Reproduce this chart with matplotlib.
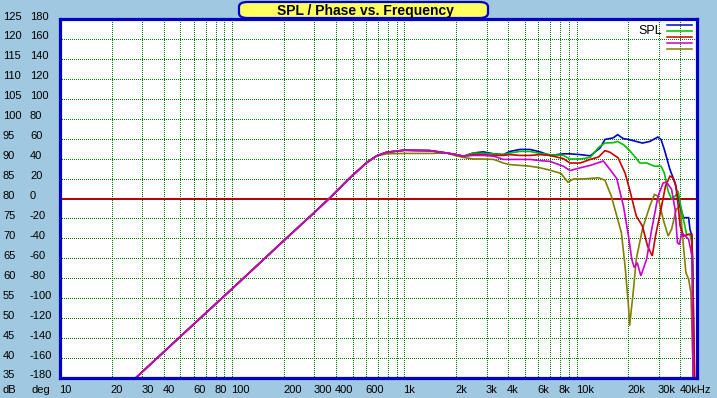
import matplotlib
matplotlib.use("Agg")
import matplotlib.pyplot as plt
from matplotlib import transforms as mtransforms
from matplotlib.patches import FancyBboxPatch
from matplotlib.lines import Line2D
from matplotlib.ticker import NullLocator

# ---------------- data ----------------
freq_low = [10, 27.5, 50, 100, 200, 300, 370, 483, 604, 690]
spl_low = [35, 35, 45.4, 57.4, 69.5, 76.5, 80.2, 85.2, 89.0, 90.7]

freq_blue = [789, 1000, 1410, 1760, 2000, 2200, 2510, 2870, 3300, 3750, 4100, 4690, 5360, 6120, 7000,
             8370, 9150, 10500, 12000, 13700, 14600, 16300, 17300, 18700, 20000, 22200, 24100, 26600,
             29600, 30900, 32300, 34800, 37300, 39900, 41700, 44700, 45500, 46700, 47400, 48000]
spl_blue = [91.6, 92.1, 92.0, 91.4, 91.0, 90.6, 91.4, 91.7, 91.2, 91.0, 91.8, 92.3, 92.3, 91.7, 90.8,
            91.2, 91.2, 91.0, 90.7, 92.7, 94.8, 95.2, 96.0, 95.0, 94.8, 94.3, 93.9, 94.3,
            95.4, 94.8, 92.3, 87.3, 83.9, 78.1, 75.2, 75.2, 72.3, 70.6, 60.0, 35]

freq_green = [789, 1000, 1410, 1760, 2000, 2200, 2510, 2870, 3300, 3750, 4100, 4690, 5360, 6120, 7000,
              8370, 9150, 10500, 12000, 13400, 14600, 16300, 17300, 18700, 20000, 21300, 23300, 25500,
              28300, 30900, 32300, 34000, 35600, 37300, 38900, 39900, 41700, 43500, 45500, 46700, 47400, 48000]
spl_green = [91.6, 92.1, 92.0, 91.4, 91.0, 90.6, 91.4, 91.3, 91.2, 91.0, 91.4, 91.8, 91.8, 91.3, 91.0,
             90.8, 89.9, 89.9, 90.3, 92.8, 93.9, 94.0, 94.3, 93.5, 92.3, 91.0, 88.9, 88.9,
             88.1, 88.1, 86.4, 81.8, 79.8, 80.6, 81.8, 78.9, 74.8, 71.0, 71.0, 68.9, 60.0, 35]

freq_red = [789, 1000, 1410, 1760, 2000, 2200, 2510, 2870, 3300, 3750, 4100, 4690, 5360, 6120, 7000,
            8370, 9150, 10500, 12000, 13400, 14600, 15600, 17400, 19100, 20300, 22200, 24100, 25800,
            27500, 28700, 30900, 32800, 34800, 36300, 37700, 38900, 39900, 41700, 44700, 46700, 47400, 48500]
spl_red = [91.6, 92.1, 92.0, 91.4, 91.0, 90.6, 91.0, 91.0, 90.8, 90.8, 91.0, 90.8, 90.8, 91.0, 90.8,
           90.0, 88.9, 88.9, 89.8, 90.4, 92.0, 91.6, 90.2, 86.4, 82.3, 75.6, 73.1, 68.1,
           65.6, 70.6, 77.3, 83.1, 85.6, 85.2, 83.1, 78.1, 73.1, 70.6, 71.0, 71.0, 57.0, 35]

freq_magenta = [789, 1000, 1410, 1760, 2000, 2200, 2510, 2870, 3300, 3750, 4100, 4690, 5360, 6120, 7000,
                8370, 9150, 10500, 12000, 14300, 15600, 17100, 18700, 20000, 20900, 21600, 22500, 23600,
                25500, 27300, 29700, 31800, 33300, 35600, 37300, 38500, 39500, 40800, 44700, 46700, 47400]
spl_magenta = [91.6, 92.1, 92.0, 91.4, 91.0, 90.6, 90.8, 90.8, 90.6, 89.8, 89.8, 89.8, 89.8, 89.5, 89.3,
               88.1, 87.0, 87.7, 88.3, 89.4, 87.3, 85.0, 78.1, 70.6, 64.8, 62.7, 63.9, 60.6,
               64.8, 72.3, 80.6, 83.9, 84.1, 82.3, 77.3, 68.9, 68.5, 71.4, 69.8, 65.6, 35]

freq_olive = [789, 1000, 1410, 1760, 2000, 2200, 2510, 2870, 3300, 3750, 4100, 4690, 5360, 6120, 7000,
              8100, 8900, 9600, 11000, 13400, 14600, 15900, 18200, 19100, 20000, 20300, 21300, 22200,
              24100, 26600, 28300, 29600, 31800, 34000, 35600, 37900, 39900, 41700, 43100, 44700, 46100, 47600]
spl_olive = [91.2, 91.3, 91.3, 91.4, 90.7, 90.3, 89.9, 89.9, 89.8, 88.9, 88.5, 88.3, 88.1, 87.7, 87.1,
             86.3, 84.1, 84.9, 84.9, 85.2, 84.6, 80.6, 71.4, 63.1, 53.1, 48.1, 56.4, 64.8,
             72.3, 78.1, 81.0, 80.6, 74.8, 70.6, 72.3, 77.3, 78.1, 68.1, 61.4, 59.8, 56.4, 35]

series_names = ["blue", "green", "red", "magenta", "olive"]
series_colors = ["#0000CC", "#00C000", "#CC0000", "#CC00CC", "#808000"]

grid_freqs = [10, 20, 30, 40, 50, 60, 70, 80, 90, 100, 200, 300, 400, 500, 600, 700, 800, 900,
              1000, 2000, 3000, 4000, 5000, 6000, 7000, 8000, 9000, 10000, 20000, 30000, 40000]
tick_freqs = [10, 20, 30, 40, 60, 80, 100, 200, 300, 400, 600, 1000, 2000, 3000, 4000, 6000, 8000,
              10000, 20000, 30000, 40000]
tick_labels = ["10", "20", "30", "40", "60", "80", "100", "200", "300", "400", "600", "1k", "2k", "3k",
               "4k", "6k", "8k", "10k", "20k", "30k", "40kHz"]
db_ticks = [125, 120, 115, 110, 105, 100, 95, 90, 85, 80, 75, 70, 65, 60, 55, 50, 45, 40, 35]
deg_ticks = [180, 160, 140, 120, 100, 80, 60, 40, 20, 0, -20, -40, -60, -80, -100, -120, -140, -160, -180]

# ---------------- figure ----------------
W, H = 717, 398
BG = "#A0C8E0"
FONT = "Liberation Sans"
fig = plt.figure(figsize=(W / 100, H / 100), dpi=100, facecolor=BG)
ax = fig.add_axes([60 / W, 1 - 378 / H, (697 - 60) / W, (378 - 19) / H])
ax.set_facecolor("white")
ax.set_xscale("log")
ax.set_xlim(10, 50000)
ax.set_ylim(35, 125)
ax.xaxis.set_major_locator(NullLocator())
ax.xaxis.set_minor_locator(NullLocator())
ax.yaxis.set_major_locator(NullLocator())
ax.yaxis.set_minor_locator(NullLocator())
for s in ax.spines.values():
    s.set_color("#0000C8")
    s.set_linewidth(2.3)
    s.set_zorder(6)

dot = (0, (1.0, 2.0))
for f in grid_freqs[1:]:
    ax.axvline(f, color="#007800", lw=0.72, ls=dot, zorder=1, antialiased=False)
for d in db_ticks[1:-1]:
    if d == 80:
        ax.axhline(d, color="#B00000", lw=1.4, zorder=2)
    else:
        ax.axhline(d, color="#007800", lw=0.72, ls=dot, zorder=1, antialiased=False)

all_freq = [freq_blue, freq_green, freq_red, freq_magenta, freq_olive]
all_spl = [spl_blue, spl_green, spl_red, spl_magenta, spl_olive]
order = [4, 0, 1, 2, 3]
for i in order:
    ax.plot(freq_low + all_freq[i], spl_low + all_spl[i], color=series_colors[i], lw=1.2, zorder=3,
            solid_joinstyle="miter")

# y labels (dB and deg columns)
trans_y = mtransforms.blended_transform_factory(fig.transFigure, ax.transData)
trans_y = mtransforms.offset_copy(trans_y, fig=fig, x=0, y=2.5, units="dots")
for d, g in zip(db_ticks, deg_ticks):
    fig.text(3 / W, d, str(d), transform=trans_y, ha="left", va="center", fontsize=8, family=FONT)
    fig.text(30 / W, d, str(g), transform=trans_y, ha="left", va="center", fontsize=8, family=FONT)

# x labels
trans_x = mtransforms.blended_transform_factory(ax.transData, fig.transFigure)
trans_x = mtransforms.offset_copy(trans_x, fig=fig, x=-1, y=0, units="dots")
for f, lab in zip(tick_freqs, tick_labels):
    fig.text(f, 1 - 390 / H, lab, transform=trans_x, ha="left", va="center", fontsize=8, family=FONT)
fig.text(3 / W, 1 - 390 / H, "dB", ha="left", va="center", fontsize=8, family=FONT)
fig.text(31 / W, 1 - 390 / H, "deg", ha="left", va="center", fontsize=8, family=FONT)

# title box
box = FancyBboxPatch((239 / W, 1 - 18 / H), (488 - 239) / W, 16 / H,
                     boxstyle="round,pad=0,rounding_size=0.012", transform=fig.transFigure,
                     facecolor="#FFFF60", edgecolor="#0000C8", lw=1.6, zorder=10)
fig.patches.append(box)
fig.text(365 / W, 1 - 10.5 / H, "SPL / Phase vs. Frequency", ha="center", va="center",
         fontsize=10, fontweight="bold", family=FONT, zorder=11)

# legend
fig.text(662 / W, 1 - 31 / H, "SPL", ha="right", va="center", fontsize=9, family=FONT)
for k, c in enumerate(series_colors):
    yy = 1 - (25 + 6 * k) / H
    fig.add_artist(Line2D([667 / W, 692 / W], [yy, yy], color=c, lw=1.1, transform=fig.transFigure))

fig.savefig("out.png", dpi=100, facecolor=BG)
